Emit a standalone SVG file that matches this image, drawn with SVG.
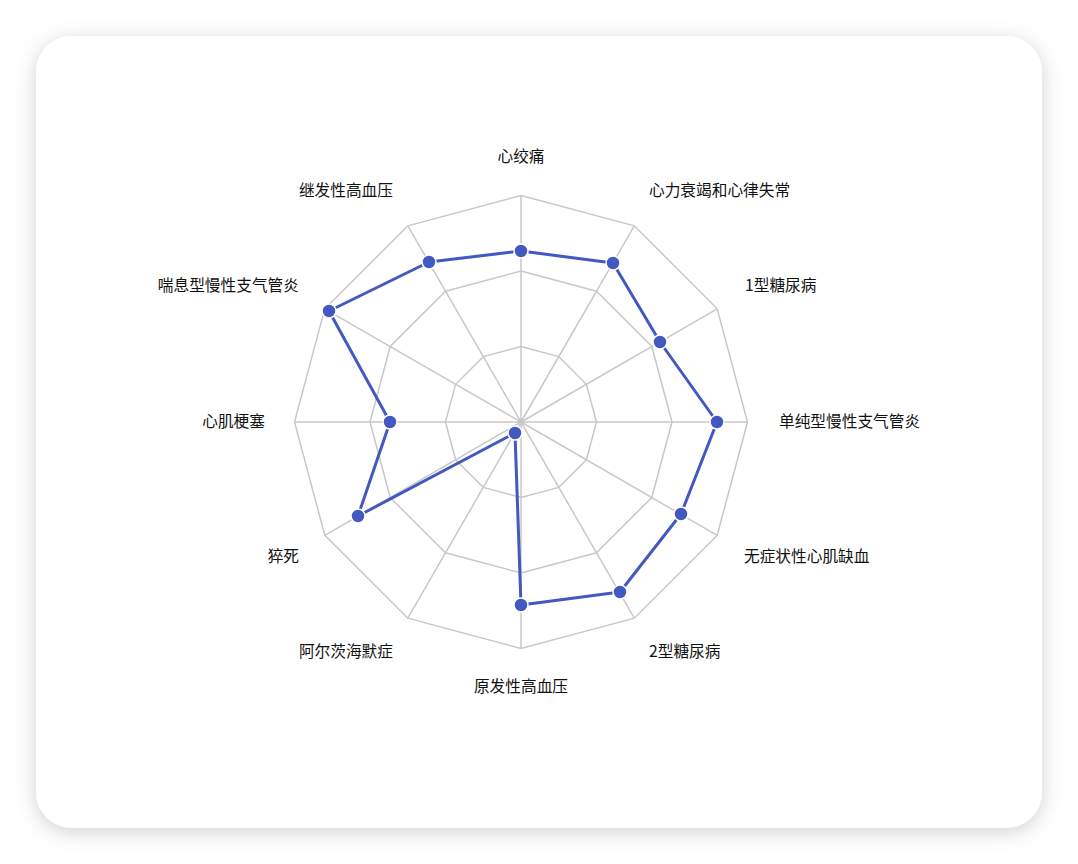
<svg xmlns="http://www.w3.org/2000/svg" width="1078" height="864" viewBox="0 0 1078 864">
<defs>
<filter id="sh" x="-10%" y="-10%" width="120%" height="120%"><feDropShadow dx="0" dy="4" stdDeviation="10" flood-color="#000" flood-opacity="0.18"/></filter>
<style>
.g{fill:none;stroke:#c8c8c8;stroke-width:1.5}
.t{font-family:"Noto Sans CJK SC","Noto Sans",sans-serif;font-size:15.7px;fill:#111}
.d{fill:#4358c0;stroke:#fff;stroke-width:1.5}
</style>
</defs>
<rect x="0" y="0" width="1078" height="864" fill="#fff"/>
<rect x="36" y="36" width="1006" height="792" rx="36" fill="#fff" filter="url(#sh)"/>
<g id="grid">
<polygon class="g" points="521,195.5 634.3,225.8 717.2,308.8 747.5,422 717.2,535.3 634.3,618.2 521,648.5 407.8,618.2 324.8,535.3 294.5,422 324.8,308.8 407.8,225.8"/>
<polygon class="g" points="521,271 596.5,291.2 651.8,346.5 672,422 651.8,497.5 596.5,552.8 521,573 445.5,552.8 390.2,497.5 370,422 390.2,346.5 445.5,291.2"/>
<polygon class="g" points="521,346.5 558.8,356.6 586.4,384.3 596.5,422 586.4,459.8 558.8,487.4 521,497.5 483.3,487.4 455.6,459.8 445.5,422 455.6,384.3 483.3,356.6"/>
<path class="g" d="M521,422L521,195.5M521,422L634.3,225.8M521,422L717.2,308.8M521,422L747.5,422M521,422L717.2,535.3M521,422L634.3,618.2M521,422L521,648.5M521,422L407.8,618.2M521,422L324.8,535.3M521,422L294.5,422M521,422L324.8,308.8M521,422L407.8,225.8"/>
</g>
<g id="connectors">
<polygon points="521,251 613,263 660,342 717,422 681,514 620,592 521,605 515,433 358,516 390,422 329,311 429,262" fill="none" stroke="#4358c0" stroke-width="3" stroke-linejoin="round"/>
</g>
<g id="points">
<circle class="d" cx="521" cy="251" r="7"/><circle class="d" cx="613" cy="263" r="7"/><circle class="d" cx="660" cy="342" r="7"/><circle class="d" cx="717" cy="422" r="7"/><circle class="d" cx="681" cy="514" r="7"/><circle class="d" cx="620" cy="592" r="7"/><circle class="d" cx="521" cy="605" r="7"/><circle class="d" cx="515" cy="433" r="7"/><circle class="d" cx="358" cy="516" r="7"/><circle class="d" cx="390" cy="422" r="7"/><circle class="d" cx="329" cy="311" r="7"/><circle class="d" cx="429" cy="262" r="7"/>
</g>
<g id="labels">
<text class="t" x="521" y="162" text-anchor="middle">心绞痛</text>
<text class="t" x="649" y="196">心力衰竭和心律失常</text>
<text class="t" x="745" y="291">1型糖尿病</text>
<text class="t" x="779" y="427">单纯型慢性支气管炎</text>
<text class="t" x="744" y="562">无症状性心肌缺血</text>
<text class="t" x="649" y="657">2型糖尿病</text>
<text class="t" x="521" y="692" text-anchor="middle">原发性高血压</text>
<text class="t" x="393" y="657" text-anchor="end">阿尔茨海默症</text>
<text class="t" x="299" y="562" text-anchor="end">猝死</text>
<text class="t" x="265" y="427" text-anchor="end">心肌梗塞</text>
<text class="t" x="299" y="291" text-anchor="end">喘息型慢性支气管炎</text>
<text class="t" x="393" y="196" text-anchor="end">继发性高血压</text>
</g>
</svg>
